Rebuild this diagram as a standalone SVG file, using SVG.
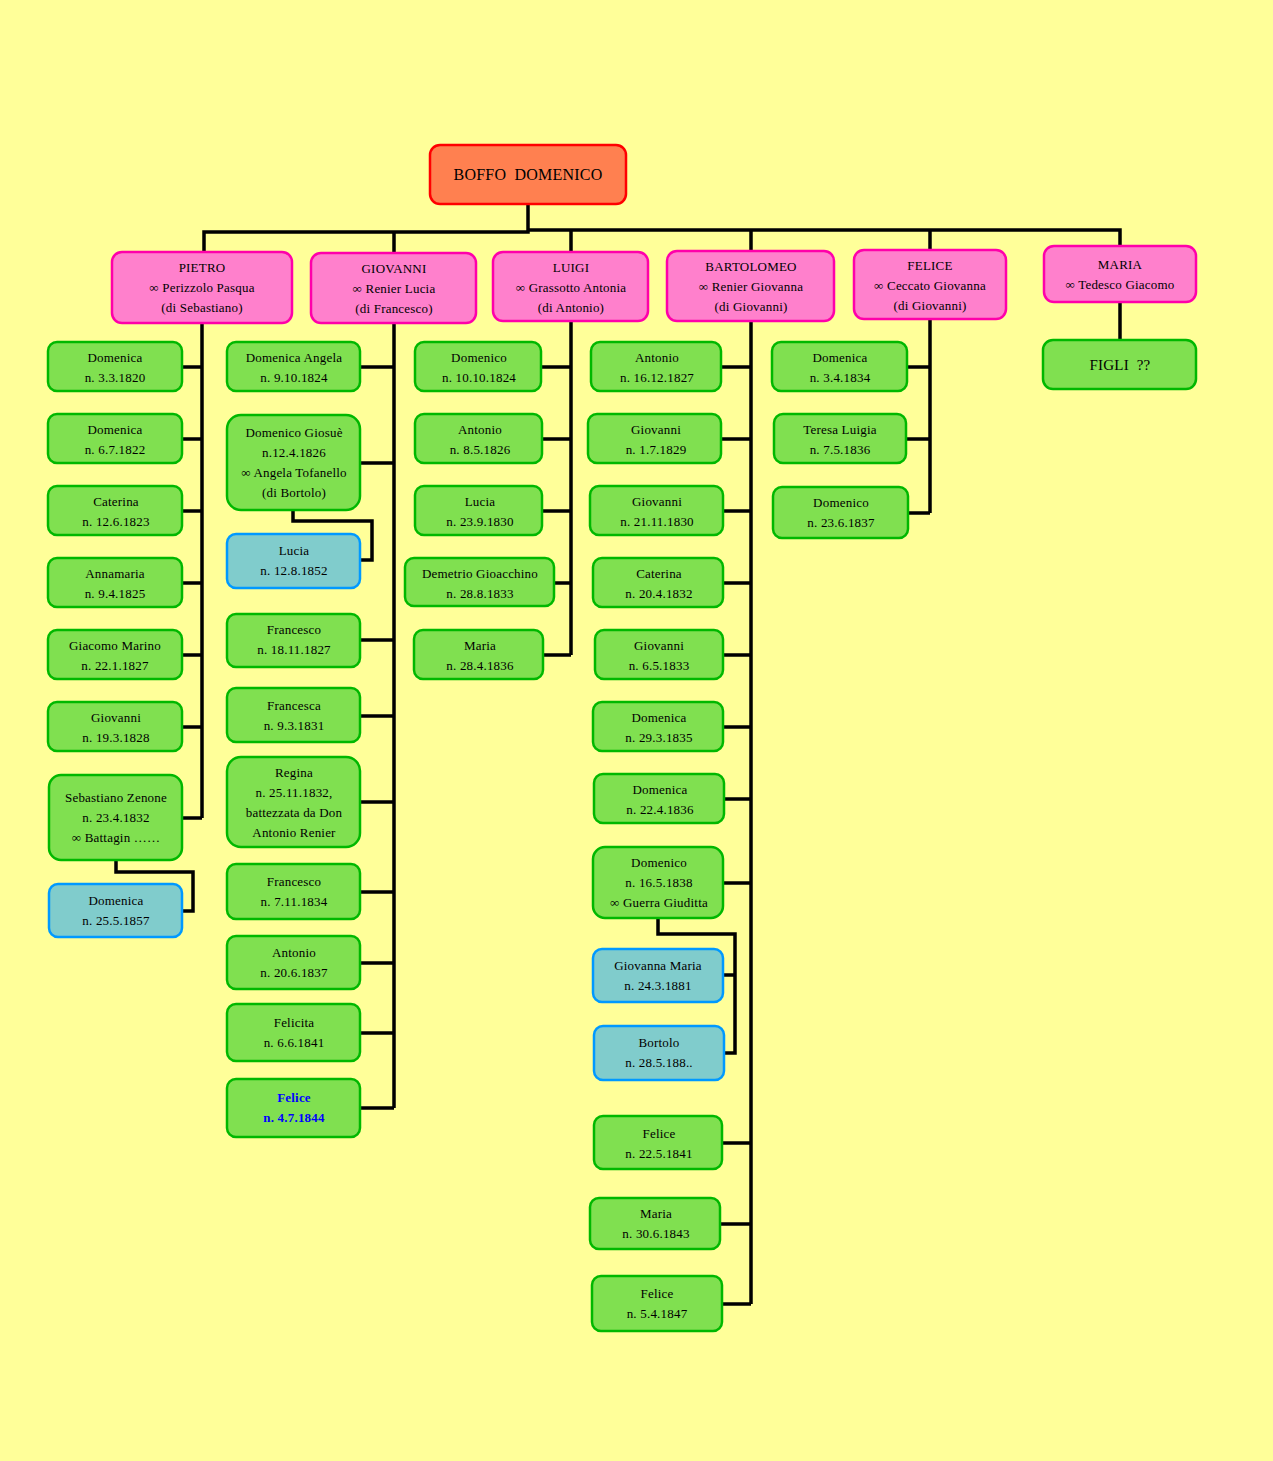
<svg xmlns="http://www.w3.org/2000/svg" width="1273" height="1461" viewBox="0 0 1273 1461">
<style>
text{font-family:"Liberation Serif","Times New Roman",serif;font-size:13px;fill:#000;text-anchor:middle;letter-spacing:0.2px}
.g{fill:#80E050;stroke:#00B800;stroke-width:2.5}
.b{fill:#80CCCC;stroke:#0099FF;stroke-width:2.5}
.p{fill:#FF80CC;stroke:#FF00AA;stroke-width:2.5}
.r{fill:#FF8050;stroke:#FF0000;stroke-width:2.5}
.c{fill:none;stroke:#000;stroke-width:3.5;stroke-linejoin:miter}
.big{font-size:16px;white-space:pre}
.fg{font-size:15px;white-space:pre}
.hl{fill:#0000FF;font-weight:bold}
</style>
<rect x="0" y="0" width="1273" height="1461" fill="#FFFF99"/>
<g id="connectors" class="c">
<path d="M528,204 V231 M204,252 V232 H528 V230 H1120 V246 M394,253 V231 M571,252 V231 M751,251 V231 M930,250 V231"/>
<path d="M1120,302 V340"/>
<path d="M202,323 V818 M182,367 H202 M182,439 H202 M182,511 H202 M182,583 H202 M182,655 H202 M182,727 H202 M182,818 H202"/>
<path d="M116,860 V872 H193 V911 H182"/>
<path d="M394,323 V1108 M360,367 H394 M360,463 H394 M360,640 H394 M360,716 H394 M360,802 H394 M360,892 H394 M360,963 H394 M360,1033 H394 M360,1108 H394"/>
<path d="M293,510 V521 H372 V560 H360"/>
<path d="M571,321 V655 M541,367 H571 M542,439 H571 M542,511 H571 M554,583 H571 M543,655 H571"/>
<path d="M751,321 V1304 M721,367 H751 M721,439 H751 M723,511 H751 M723,583 H751 M723,655 H751 M723,727 H751 M724,799 H751 M723,883 H751 M722,1143 H751 M720,1224 H751 M722,1304 H751"/>
<path d="M658,918 V934 H735 V1053 H724 M723,975 H735"/>
<path d="M930,319 V513 M907,367 H930 M906,439 H930 M908,513 H930"/>
</g>
<g id="root"><rect class="r" x="430" y="145" width="196" height="59" rx="10"/><text class="big" x="528" y="180">BOFFO  DOMENICO</text></g>
<g id="pietro"><rect class="p" x="112" y="252" width="180" height="71" rx="10"/><text x="202" y="272">PIETRO</text><text x="202" y="292">∞ Perizzolo Pasqua</text><text x="202" y="312">(di Sebastiano)</text></g>
<g id="giovanni"><rect class="p" x="311" y="253" width="165" height="70" rx="10"/><text x="394" y="273">GIOVANNI</text><text x="394" y="293">∞ Renier Lucia</text><text x="394" y="313">(di Francesco)</text></g>
<g id="luigi"><rect class="p" x="493" y="252" width="155" height="69" rx="10"/><text x="571" y="272">LUIGI</text><text x="571" y="292">∞ Grassotto Antonia</text><text x="571" y="312">(di Antonio)</text></g>
<g id="bartolomeo"><rect class="p" x="667" y="251" width="167" height="70" rx="10"/><text x="751" y="271">BARTOLOMEO</text><text x="751" y="291">∞ Renier Giovanna</text><text x="751" y="311">(di Giovanni)</text></g>
<g id="felice"><rect class="p" x="854" y="250" width="152" height="69" rx="10"/><text x="930" y="270">FELICE</text><text x="930" y="290">∞ Ceccato Giovanna</text><text x="930" y="310">(di Giovanni)</text></g>
<g id="maria"><rect class="p" x="1044" y="246" width="152" height="56" rx="10"/><text x="1120" y="269">MARIA</text><text x="1120" y="289">∞ Tedesco Giacomo</text></g>
<g id="maria-figli"><rect class="g" x="1043" y="340" width="153" height="49" rx="10"/><text class="fg" x="1120" y="370">FIGLI  ??</text></g>

<g id="p1"><rect class="g" x="48" y="342" width="134" height="49" rx="9"/><text x="115" y="362">Domenica</text><text x="115" y="382">n. 3.3.1820</text></g>
<g id="p2"><rect class="g" x="48" y="414" width="134" height="49" rx="9"/><text x="115" y="434">Domenica</text><text x="115" y="454">n. 6.7.1822</text></g>
<g id="p3"><rect class="g" x="48" y="486" width="134" height="49" rx="9"/><text x="116" y="506">Caterina</text><text x="116" y="526">n. 12.6.1823</text></g>
<g id="p4"><rect class="g" x="48" y="558" width="134" height="49" rx="9"/><text x="115" y="578">Annamaria</text><text x="115" y="598">n. 9.4.1825</text></g>
<g id="p5"><rect class="g" x="48" y="630" width="134" height="49" rx="9"/><text x="115" y="650">Giacomo Marino</text><text x="115" y="670">n. 22.1.1827</text></g>
<g id="p6"><rect class="g" x="48" y="702" width="134" height="49" rx="9"/><text x="116" y="722">Giovanni</text><text x="116" y="742">n. 19.3.1828</text></g>
<g id="p7"><rect class="g" x="49" y="775" width="133" height="85" rx="12"/><text x="116" y="802">Sebastiano Zenone</text><text x="116" y="822">n. 23.4.1832</text><text x="116" y="842">∞ Battagin ……</text></g>
<g id="p7a"><rect class="b" x="49" y="884" width="133" height="53" rx="9"/><text x="116" y="905">Domenica</text><text x="116" y="925">n. 25.5.1857</text></g>

<g id="g1"><rect class="g" x="227" y="342" width="133" height="49" rx="9"/><text x="294" y="362">Domenica Angela</text><text x="294" y="382">n. 9.10.1824</text></g>
<g id="g2"><rect class="g" x="227" y="415" width="133" height="95" rx="14"/><text x="294" y="437">Domenico Giosuè</text><text x="294" y="457">n.12.4.1826</text><text x="294" y="477">∞ Angela Tofanello</text><text x="294" y="497">(di Bortolo)</text></g>
<g id="g2a"><rect class="b" x="227" y="534" width="133" height="54" rx="9"/><text x="294" y="555">Lucia</text><text x="294" y="575">n. 12.8.1852</text></g>
<g id="g3"><rect class="g" x="227" y="614" width="133" height="53" rx="9"/><text x="294" y="634">Francesco</text><text x="294" y="654">n. 18.11.1827</text></g>
<g id="g4"><rect class="g" x="227" y="688" width="133" height="54" rx="9"/><text x="294" y="710">Francesca</text><text x="294" y="730">n. 9.3.1831</text></g>
<g id="g5"><rect class="g" x="227" y="757" width="133" height="90" rx="14"/><text x="294" y="777">Regina</text><text x="294" y="797">n. 25.11.1832,</text><text x="294" y="817">battezzata da Don</text><text x="294" y="837">Antonio Renier</text></g>
<g id="g6"><rect class="g" x="227" y="864" width="133" height="55" rx="9"/><text x="294" y="886">Francesco</text><text x="294" y="906">n. 7.11.1834</text></g>
<g id="g7"><rect class="g" x="227" y="936" width="133" height="53" rx="9"/><text x="294" y="957">Antonio</text><text x="294" y="977">n. 20.6.1837</text></g>
<g id="g8"><rect class="g" x="227" y="1004" width="133" height="57" rx="9"/><text x="294" y="1027">Felicita</text><text x="294" y="1047">n. 6.6.1841</text></g>
<g id="g9"><rect class="g" x="227" y="1079" width="133" height="58" rx="9"/><text class="hl" x="294" y="1102">Felice</text><text class="hl" x="294" y="1122">n. 4.7.1844</text></g>

<g id="l1"><rect class="g" x="415" y="342" width="126" height="49" rx="9"/><text x="479" y="362">Domenico</text><text x="479" y="382">n. 10.10.1824</text></g>
<g id="l2"><rect class="g" x="415" y="414" width="127" height="49" rx="9"/><text x="480" y="434">Antonio</text><text x="480" y="454">n. 8.5.1826</text></g>
<g id="l3"><rect class="g" x="415" y="486" width="127" height="49" rx="9"/><text x="480" y="506">Lucia</text><text x="480" y="526">n. 23.9.1830</text></g>
<g id="l4"><rect class="g" x="405" y="558" width="149" height="48" rx="9"/><text x="480" y="578">Demetrio Gioacchino</text><text x="480" y="598">n. 28.8.1833</text></g>
<g id="l5"><rect class="g" x="414" y="630" width="129" height="49" rx="9"/><text x="480" y="650">Maria</text><text x="480" y="670">n. 28.4.1836</text></g>

<g id="b1"><rect class="g" x="591" y="342" width="130" height="49" rx="9"/><text x="657" y="362">Antonio</text><text x="657" y="382">n. 16.12.1827</text></g>
<g id="b2"><rect class="g" x="588" y="414" width="133" height="49" rx="9"/><text x="656" y="434">Giovanni</text><text x="656" y="454">n. 1.7.1829</text></g>
<g id="b3"><rect class="g" x="590" y="486" width="133" height="49" rx="9"/><text x="657" y="506">Giovanni</text><text x="657" y="526">n. 21.11.1830</text></g>
<g id="b4"><rect class="g" x="593" y="558" width="130" height="49" rx="9"/><text x="659" y="578">Caterina</text><text x="659" y="598">n. 20.4.1832</text></g>
<g id="b5"><rect class="g" x="595" y="630" width="128" height="49" rx="9"/><text x="659" y="650">Giovanni</text><text x="659" y="670">n. 6.5.1833</text></g>
<g id="b6"><rect class="g" x="593" y="702" width="130" height="49" rx="9"/><text x="659" y="722">Domenica</text><text x="659" y="742">n. 29.3.1835</text></g>
<g id="b7"><rect class="g" x="594" y="774" width="130" height="49" rx="9"/><text x="660" y="794">Domenica</text><text x="660" y="814">n. 22.4.1836</text></g>
<g id="b8"><rect class="g" x="593" y="847" width="130" height="71" rx="12"/><text x="659" y="867">Domenico</text><text x="659" y="887">n. 16.5.1838</text><text x="659" y="907">∞ Guerra Giuditta</text></g>
<g id="b8a"><rect class="b" x="593" y="949" width="130" height="53" rx="9"/><text x="658" y="970">Giovanna Maria</text><text x="658" y="990">n. 24.3.1881</text></g>
<g id="b8b"><rect class="b" x="594" y="1026" width="130" height="54" rx="9"/><text x="659" y="1047">Bortolo</text><text x="659" y="1067">n. 28.5.188..</text></g>
<g id="b9"><rect class="g" x="594" y="1116" width="128" height="53" rx="9"/><text x="659" y="1138">Felice</text><text x="659" y="1158">n. 22.5.1841</text></g>
<g id="b10"><rect class="g" x="590" y="1198" width="130" height="51" rx="9"/><text x="656" y="1218">Maria</text><text x="656" y="1238">n. 30.6.1843</text></g>
<g id="b11"><rect class="g" x="592" y="1276" width="130" height="55" rx="9"/><text x="657" y="1298">Felice</text><text x="657" y="1318">n. 5.4.1847</text></g>

<g id="f1"><rect class="g" x="772" y="342" width="135" height="49" rx="9"/><text x="840" y="362">Domenica</text><text x="840" y="382">n. 3.4.1834</text></g>
<g id="f2"><rect class="g" x="774" y="414" width="132" height="49" rx="9"/><text x="840" y="434">Teresa Luigia</text><text x="840" y="454">n. 7.5.1836</text></g>
<g id="f3"><rect class="g" x="773" y="487" width="135" height="51" rx="9"/><text x="841" y="507">Domenico</text><text x="841" y="527">n. 23.6.1837</text></g>
</svg>
